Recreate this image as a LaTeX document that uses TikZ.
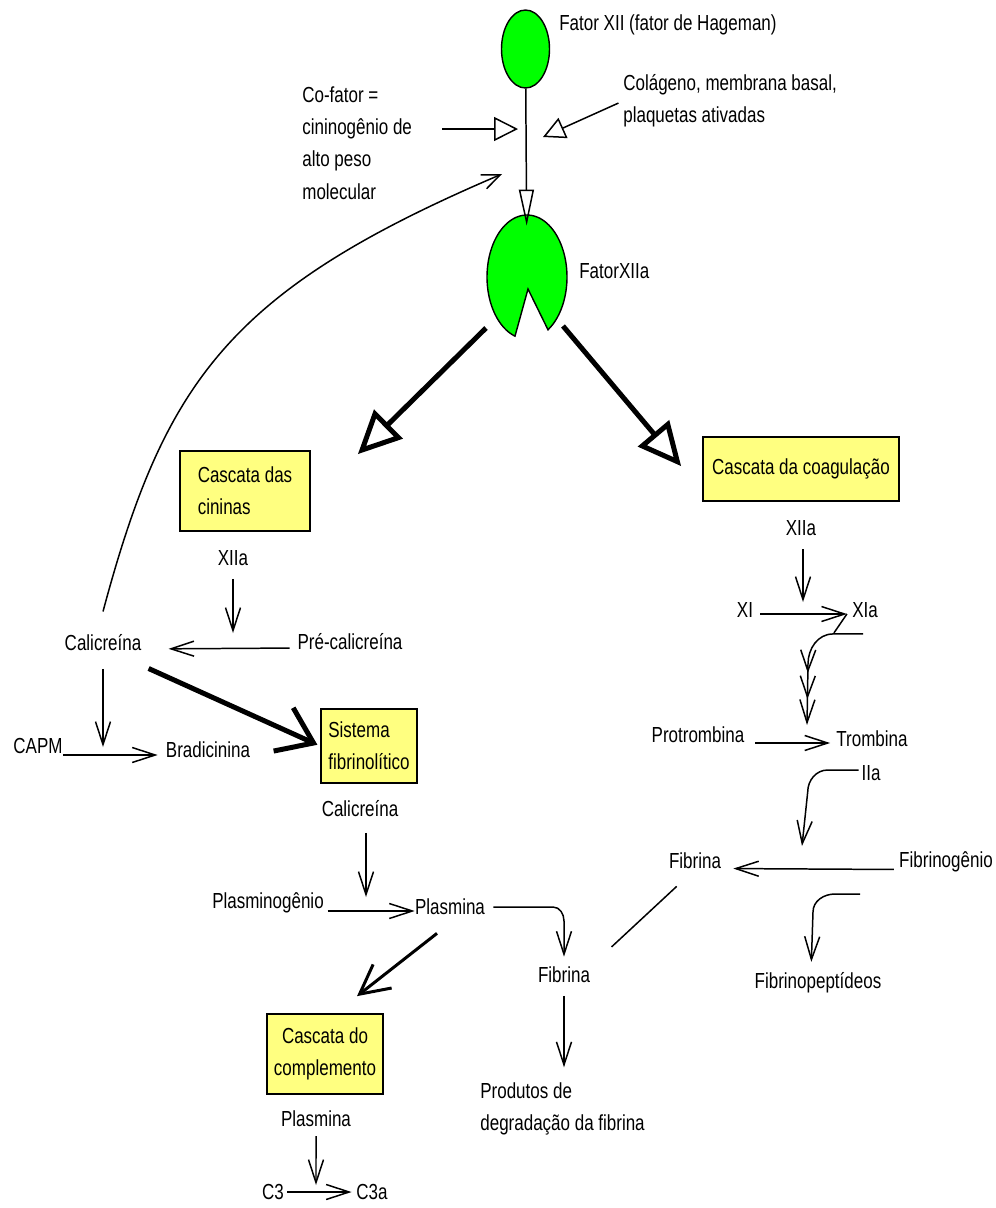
\documentclass[tikz,border=0pt]{standalone}
\usepackage{fontspec}
\setmainfont{Liberation Sans}[FakeStretch=0.78]
\usepackage{xcolor}
\definecolor{boxyellow}{RGB}{255,255,128}
\definecolor{enzgreen}{RGB}{0,255,0}
\usepackage{tikz}
\usetikzlibrary{arrows.meta, positioning, shapes.geometric, decorations.markings}

\begin{document}
\begin{tikzpicture}[x=0.02cm, y=-0.02cm,
    font=\fontsize{12.4pt}{18.4pt}\selectfont,
    txt/.style={inner sep=0pt, align=left},
    cascade/.style={rectangle, draw, line width=1pt, fill=boxyellow,
      inner sep=0pt, align=center},
    enz/.style={draw, line width=0.8pt, fill=enzgreen},
    plain/.style={line width=0.85pt},
    rxn/.style={plain, -{Straight Barb[length=0.46cm, width=0.3cm]}},
    activ/.style={plain, -{Triangle[open, length=0.48cm, width=0.48cm]}},
    bigarrow/.style={line width=0.1cm, -{Triangle[open, length=0.86cm, width=0.8cm]}},
    fatarrow/.style={line width=0.1cm, -{Straight Barb[length=0.66cm, width=0.95cm]}},
    medarrow/.style={line width=0.06cm, -{Straight Barb[length=0.58cm, width=0.6cm]}},
    multihead/.style={postaction={decorate}, decoration={markings,
      mark=at position -0.52cm with {\arrow{Straight Barb[length=0.42cm, width=0.3cm]}},
      mark=at position -1.04cm with {\arrow{Straight Barb[length=0.42cm, width=0.3cm]}}}}
]
\useasboundingbox (0,0) rectangle (996,1208);

%% Ativação do fator XII
\node[enz, ellipse, minimum width=0.96cm, minimum height=1.56cm, inner sep=0pt] (fxii) at (525.5,49) {};
\node[txt, anchor=west] (fxiiname) at (559,25) {Fator XII (fator de Hageman)};
\node[txt, anchor=west] (cofator) at (302,143) {Co-fator =\\cininogênio de\\alto peso\\molecular};
\node[txt, anchor=west] (colag) at (623,101) {Colágeno, membrana basal,\\plaquetas ativadas};

\node[ellipse, minimum width=0.8cm, minimum height=1.24cm, inner sep=0pt] (fxiia) at (527,277) {};
\filldraw[enz] plot[domain=107.46:418.33, samples=90] ({527+40*cos(\x)}, {277+62*sin(\x)}) -- (528,289) -- cycle;
\node[txt, anchor=west] (fxiianame) at (579,271) {FatorXIIa};

\coordinate (hitA) at (518,129);
\coordinate (hitB) at (543,137);
\coordinate (hitC) at (502,174);
\draw[activ, -{Triangle[open, length=0.72cm, width=0.3cm]}, shorten >=0.4cm] (fxii) -- (fxiia);
\draw[activ, shorten <=0.6cm] (cofator.east |- hitA) -- (hitA);
\draw[activ, -{Triangle[open, length=0.44cm, width=0.44cm]}, shorten <=0.1cm] (colag.west) -- (hitB);

%% Cascata das cininas
\node[cascade, align=left, minimum width=2.6cm, minimum height=1.6cm] (cinbox) at (245,491) {Cascata das\\cininas};
\node[txt] (xiiaA) at (233,558) {XIIa};
\node[txt] (calicA) at (103,643) {Calicreína};
\node[txt] (precal) at (350,642) {Pré-calicreína};
\node[txt] (capm) at (38,746) {CAPM};
\node[txt] (bradi) at (208,750) {Bradicinina};

\draw[bigarrow] ([shift={(-41,51)}]fxiia.center) -- ([shift={(47,4)}]cinbox.north east);
\draw[rxn, -{Straight Barb[length=0.36cm, width=0.3cm]}] ([yshift=0.46cm]calicA.north)
  .. controls (165,380) and (230,290) .. (hitC);

\coordinate (k1) at (233,633);
\coordinate (k2) at (103,747);
\draw[rxn, shorten <=0.26cm] (xiiaA.south) -- (k1);
\draw[rxn, shorten <=0.15cm, shorten >=0.54cm] ([yshift=-0.12cm]precal.west) -- ([yshift=-0.12cm]calicA.east);
\draw[rxn, shorten <=0.35cm] (calicA.south) -- (k2);
\draw[rxn, shorten >=0.16cm] ([yshift=-0.18cm]capm.east) -- ([yshift=-0.18cm]capm.east -| bradi.west);

%% Sistema fibrinolítico
\node[cascade, align=left, minimum width=1.92cm, minimum height=1.48cm] (sisbox) at (369,746) {Sistema\\fibrinolítico};
\node[txt, below=0.33cm of sisbox, xshift=-0.18cm] (calicB) {Calicreína};
\node[txt] (plasmg) at (268,903) {Plasminogênio};
\node[txt] (plasmA) at (450,907) {Plasmina};
\node[txt] (fibrB) at (564,975) {Fibrina};
\node[txt, anchor=west] (prod) at (480,1109) {Produtos de\\degradação da fibrina};

\draw[fatarrow, shorten >=0.06cm] ([shift={(7,17)}]calicA.south east) -- (sisbox.west);

\coordinate (k3) at (366,897);
\draw[rxn, shorten <=0.31cm] (calicB.south -| k3) -- (k3);
\draw[rxn, shorten <=0.07cm] ([yshift=-0.16cm]plasmg.east) -- ([yshift=-0.16cm]plasmg.east -| plasmA.west);
\draw[rxn, shorten <=0.16cm, shorten >=0.2cm] (plasmA.east) -- (553,907) to[out=0, in=90] (564,921) -- (fibrB.north);
\draw[rxn, shorten <=0.25cm, shorten >=0.3cm] (fibrB.south) -- (prod.north -| fibrB.south);

%% Cascata do complemento
\node[cascade, minimum width=2.32cm, minimum height=1.6cm] (compbox) at (325,1054) {Cascata do\\complemento};
\node[txt, below=0.31cm of compbox, xshift=-0.18cm] (plasmB) {Plasmina};
\node[txt] (c3) at (273,1192) {C3};
\node[txt] (c3a) at (372,1192) {C3a};

\draw[medarrow] ([shift={(-13,18)}]plasmA.south) -- ([shift={(32,-17)}]compbox.north);

\coordinate (k5) at (316,1185);
\draw[rxn, shorten <=0.18cm] (plasmB.south) -- (k5);
\draw[rxn, shorten <=0.06cm, shorten >=0.09cm] (c3.east) -- (c3a.west);

%% Cascata da coagulação
\node[cascade, minimum width=3.92cm, minimum height=1.28cm] (coagbox) at (801,469) {Cascata da coagulação};
\node[txt, below=0.37cm of coagbox] (xiiaB) {XIIa};
\node[txt] (xi) at (745,610) {XI};
\node[txt] (xia) at (865,610) {XIa};
\node[txt] (protr) at (698,735) {Protrombina};
\node[txt] (tromb) at (872,739) {Trombina};
\node[txt] (iia) at (871,773) {IIa};
\node[txt] (fibrA) at (695,861) {Fibrina};
\node[txt] (fibrg) at (946,862) {Fibrinogênio};
\node[txt] (fpep) at (818,983) {Fibrinopeptídeos};

\draw[bigarrow] ([shift={(36,49)}]fxiia.center) -- ([shift={(-21,30)}]coagbox.north west);

\coordinate (k6) at (803,602);
\coordinate (k7) at (807,725);
\coordinate (k9) at (802,846);
\coordinate (kfp) at (860,894);
\draw[rxn, shorten <=0.26cm] (xiiaB.south -| k6) -- (k6);
\draw[rxn, shorten <=0.14cm, shorten >=0.1cm] ([yshift=-0.08cm]xi.east) -- ([yshift=-0.08cm]xi.east -| xia.west);
\draw[plain] ([shift={(-5,4)}]xia.west) -- ++(-13,19);
\draw[rxn, multihead] ([shift={(-2,16)}]xia.south) -- ++(-30,0) to[out=180, in=90] ++(-25,30) -- (k7);
\draw[rxn, shorten <=0.21cm, shorten >=0.12cm] ([yshift=-0.16cm]protr.east) -- ([yshift=-0.16cm]protr.east -| tromb.west);
\draw[rxn] ([shift={(-2.5,-3)}]iia.west) -- ++(-31,0) to[out=180, in=90] ++(-20,22) -- (k9);
\draw[rxn, shorten <=0.1cm, shorten >=0.24cm] ([yshift=-0.15cm]fibrg.west) -- ([yshift=-0.15cm]fibrA.east);
\draw[rxn, shorten >=0.21cm] (kfp) -- ++(-25,0) to[out=180, in=90] ++(-22,18) -- ([xshift=-0.14cm]fpep.north);
\draw[plain, shorten <=0.5cm, shorten >=0.58cm] (fibrA.south) -- (fibrB.north east);
\end{tikzpicture}
\end{document}
